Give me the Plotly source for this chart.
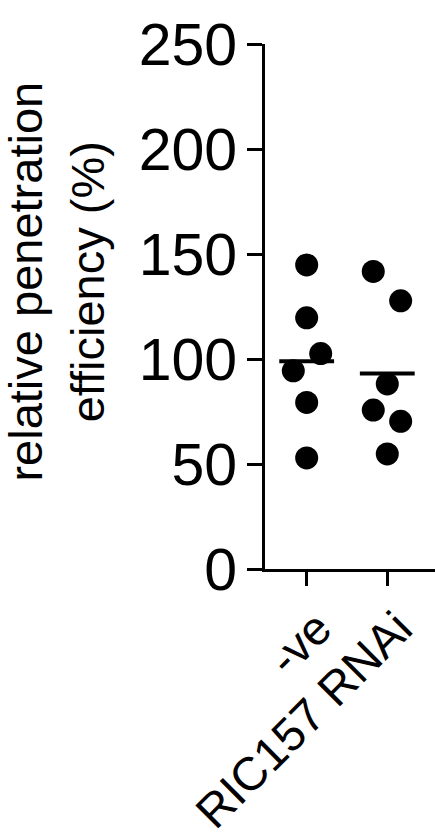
import plotly.graph_objects as go

categories = ["-ve", "RIC157 RNAi"]
neg_values = [144.8, 119.6, 102.6, 94.4, 79.3, 52.9]
neg_offsets = [0.0, 0.0, 0.174, -0.166, 0.0, 0.0]
ric_values = [141.7, 127.7, 88.1, 75.7, 70.3, 54.8]
ric_offsets = [-0.174, 0.166, 0.0, -0.174, 0.166, 0.0]
y_ticks = [0, 50, 100, 150, 200, 250]

FONT = "Liberation Sans, Arial, sans-serif"

fig = go.Figure()
groups = [(0, neg_values, neg_offsets), (1, ric_values, ric_offsets)]
for ci, vals, offs in groups:
    fig.add_trace(go.Scatter(
        x=[ci + o for o in offs], y=vals, mode="markers",
        marker=dict(size=23, color="black", line=dict(width=0)),
        cliponaxis=False, showlegend=False, hoverinfo="y"))
for ci, vals, offs in groups:
    m = sum(vals) / len(vals)
    fig.add_trace(go.Scatter(
        x=[ci - 0.34, ci + 0.34], y=[m, m], mode="lines",
        line=dict(color="black", width=4),
        cliponaxis=False, showlegend=False, hoverinfo="skip"))

fig.update_layout(
    width=435, height=838,
    margin=dict(l=265, r=0, t=44, b=257),
    paper_bgcolor="white", plot_bgcolor="white",
    font=dict(family=FONT, color="black"),
    xaxis=dict(
        range=[-0.517, 1.592], tickmode="array", tickvals=[0, 1], ticktext=categories,
        tickangle=-45, ticks="outside", ticklen=14, tickwidth=3, tickcolor="black",
        showline=True, linewidth=3, linecolor="black", showgrid=False, zeroline=False,
        tickfont=dict(size=47, family=FONT, color="black"),
        ticklabelshift=11, ticklabelstandoff=-4,
    ),
    yaxis=dict(
        range=[0, 250], tickmode="array", tickvals=y_ticks,
        ticks="outside", ticklen=15, tickwidth=3, tickcolor="black",
        showline=True, linewidth=3, linecolor="black", showgrid=False, zeroline=False,
        tickfont=dict(size=59, family=FONT, color="black"),
        ticklabelstandoff=-2,
    ),
    annotations=[dict(
        text="relative penetration<br>efficiency (%)", textangle=-90,
        xref="paper", yref="paper", x=(56 - 265) / 170, y=(581 - 287) / 537,
        xanchor="center", yanchor="middle", showarrow=False,
        font=dict(size=47, family=FONT, color="black"),
    )],
)

fig.write_html("out.html")
